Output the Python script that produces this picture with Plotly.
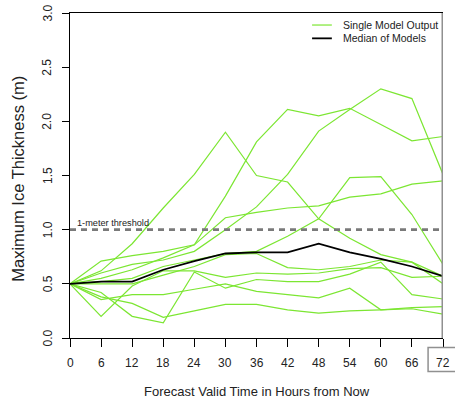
import plotly.graph_objects as go

# Forecast hours
hours = [0, 6, 12, 18, 24, 30, 36, 42, 48, 54, 60, 66, 72]
tick_labels = [str(h) for h in hours]
y_ticks = [0, 0.5, 1.0, 1.5, 2.0, 2.5, 3.0]
y_tick_labels = ["0.0", "0.5", "1.0", "1.5", "2.0", "2.5", "3.0"]

# Maximum ice thickness (m) from each model run
model_a = [0.50, 0.62, 0.87, 1.20, 1.51, 1.90, 1.50, 1.44, 1.10, 0.92, 0.77, 0.70, 0.57]
model_b = [0.50, 0.71, 0.76, 0.80, 0.86, 1.31, 1.81, 2.11, 2.05, 2.12, 1.97, 1.82, 1.86]
model_c = [0.50, 0.60, 0.68, 0.72, 0.80, 1.00, 1.21, 1.51, 1.91, 2.11, 2.30, 2.21, 1.51]
model_d = [0.50, 0.55, 0.63, 0.74, 0.86, 1.11, 1.16, 1.20, 1.22, 1.30, 1.33, 1.42, 1.45]
model_e = [0.50, 0.52, 0.55, 0.66, 0.72, 0.78, 0.80, 0.94, 1.10, 1.48, 1.49, 1.14, 0.68]
model_f = [0.50, 0.50, 0.50, 0.58, 0.66, 0.77, 0.78, 0.65, 0.63, 0.66, 0.72, 0.70, 0.50]
model_g = [0.50, 0.20, 0.48, 0.62, 0.62, 0.56, 0.60, 0.59, 0.60, 0.64, 0.65, 0.56, 0.57]
model_h = [0.50, 0.42, 0.20, 0.14, 0.61, 0.46, 0.54, 0.52, 0.52, 0.59, 0.70, 0.40, 0.36]
model_i = [0.50, 0.355, 0.40, 0.40, 0.45, 0.50, 0.43, 0.40, 0.37, 0.46, 0.26, 0.28, 0.29]
model_j = [0.50, 0.38, 0.32, 0.19, 0.25, 0.31, 0.31, 0.26, 0.23, 0.25, 0.26, 0.27, 0.22]

# Median across models
median = [0.50, 0.52, 0.52, 0.63, 0.71, 0.78, 0.79, 0.79, 0.87, 0.79, 0.73, 0.66, 0.57]

threshold = 1.0
selected_hour = 72

models = [model_a, model_b, model_c, model_d, model_e,
          model_f, model_g, model_h, model_i, model_j]

GREEN = "#7CE632"
FONT = "Liberation Sans, Arial, sans-serif"
TEXT = "#222"

fig = go.Figure()

for vals in models:
    fig.add_trace(go.Scatter(
        x=hours, y=vals, mode="lines",
        line=dict(color=GREEN, width=1.2),
        name="Single Model Output", showlegend=False, hoverinfo="skip",
    ))

fig.add_trace(go.Scatter(
    x=hours, y=median, mode="lines",
    line=dict(color="black", width=1.8),
    name="Median of Models", showlegend=False,
))

# 1-meter threshold
fig.add_shape(type="line", xref="x", yref="y",
              x0=0, x1=72, y0=threshold, y1=threshold,
              line=dict(color="#7a7a7a", width=2.6, dash="6px,5px"),
              layer="above")
fig.add_annotation(x=0, y=threshold, xref="x", yref="y",
                   text="1-meter threshold", showarrow=False,
                   xanchor="left", yanchor="bottom", xshift=5, yshift=0,
                   font=dict(family=FONT, size=9.2, color=TEXT))

# Marker for the selected forecast hour
fig.add_shape(type="line", xref="x", yref="y",
              x0=selected_hour, x1=selected_hour, y0=-0.01, y1=3.0,
              line=dict(color="#909090", width=3), layer="above")
fig.add_shape(type="rect", xref="paper", yref="paper",
              x0=0.96, x1=1.06, y0=-0.103, y1=-0.029,
              line=dict(color="#909090", width=1.5), fillcolor="rgba(0,0,0,0)")

# Tick labels placed on the axis scales
for h, lab in zip(hours, tick_labels):
    fig.add_annotation(x=h, y=0, xref="x", yref="y", text=lab,
                       showarrow=False, xanchor="center", yanchor="middle",
                       yshift=-24.5, font=dict(family=FONT, size=12, color=TEXT))
for v, lab in zip(y_ticks, y_tick_labels):
    fig.add_annotation(x=0, y=v, xref="x", yref="y", text=lab, textangle=-90,
                       showarrow=False, xanchor="center", yanchor="middle",
                       xshift=-22.5, font=dict(family=FONT, size=12, color=TEXT))

# Axis titles
fig.add_annotation(x=0.5, y=-0.1644, xref="paper", yref="paper",
                   text="Forecast Valid Time in Hours from Now",
                   showarrow=False, xanchor="center", yanchor="middle",
                   font=dict(family=FONT, size=13, color=TEXT))
fig.add_annotation(x=-0.1394, y=0.49, xref="paper", yref="paper",
                   text="Maximum Ice Thickness (m)", textangle=-90,
                   showarrow=False, xanchor="center", yanchor="middle",
                   font=dict(family=FONT, size=16.5, color=TEXT))

# Key in the upper right corner
legend_items = [("Single Model Output", GREEN, 1.2, 0.963),
                ("Median of Models", "black", 1.8, 0.922)]
for label, color, width, ypos in legend_items:
    fig.add_shape(type="line", xref="paper", yref="paper",
                  x0=0.649, x1=0.702, y0=ypos, y1=ypos,
                  line=dict(color=color, width=width))
    fig.add_annotation(x=0.7265, y=ypos, xref="paper", yref="paper",
                       text=label, showarrow=False,
                       xanchor="left", yanchor="middle",
                       font=dict(family=FONT, size=10.5, color=TEXT))

fig.update_layout(
    width=455, height=407,
    margin=dict(l=70, r=12, t=13, b=68.5),
    paper_bgcolor="white", plot_bgcolor="white",
    font=dict(family=FONT, color=TEXT),
    showlegend=False,
    xaxis=dict(
        range=[0, 72], tickvals=hours, showticklabels=False,
        showgrid=False, zeroline=False,
        showline=True, linecolor="black", linewidth=1, mirror=True,
        ticks="outside", ticklen=8, tickcolor="black",
    ),
    yaxis=dict(
        range=[0, 3], tickvals=y_ticks, showticklabels=False,
        showgrid=False, zeroline=False,
        showline=True, linecolor="black", linewidth=1,
        ticks="outside", ticklen=7, tickcolor="black",
    ),
)

fig.write_html("out.html")
